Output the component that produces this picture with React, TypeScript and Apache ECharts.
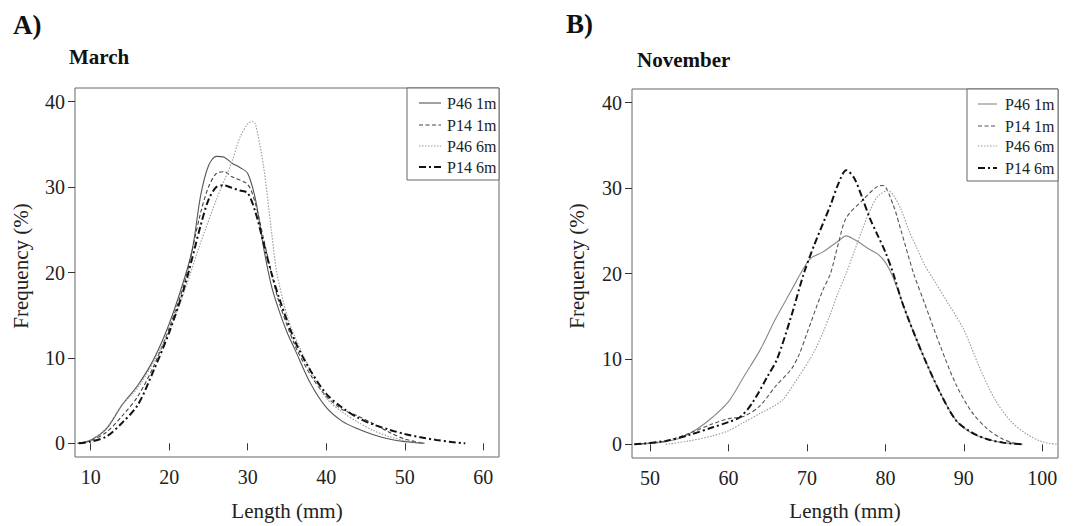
import React, { useEffect, useRef } from "react";
import * as echarts from "echarts";

// ---------- DATA ----------
const seriesNames = ["P46 1m", "P14 1m", "P46 6m", "P14 6m"];

const marchP46_1m = [[8.3,0],[10,0.4],[12,1.7],[14,4.5],[16,6.8],[18,9.8],[20,14],[22,19.5],[23,23],[24,29],[25,32.5],[26,33.6],[27,33.5],[28,32.8],[29,32.3],[30,31.6],[31,28.5],[32,23],[33,18.5],[34,15.5],[35,13],[36,11],[38,7],[40,4.2],[42,2.6],[44,1.7],[46,1.0],[48,0.5],[50,0.2],[52.5,0]];
const marchP14_1m = [[8.5,0],[10,0.3],[12,1.3],[14,3.2],[16,5.5],[18,9],[20,13.5],[22,19],[24,27],[25,30],[26,31.6],[27,31.8],[28,31.2],[30,30.3],[31,28],[32,24],[33,20],[34,16.5],[36,11.5],[38,8],[40,5.5],[42,4],[44,3.2],[46,2.3],[48,1.3],[50,0.5],[52.5,0]];
const marchP46_6m = [[8.5,0],[10,0.4],[12,1.8],[14,4.5],[16,6.5],[18,9.5],[20,13.2],[22,18],[24,23.5],[26,28.5],[28,33],[29,35.8],[30,37.4],[30.6,37.7],[31,37.3],[32,32.5],[33,25],[33.7,20],[35,15],[36,12.5],[38,8.5],[40,5.3],[42,3.7],[44,2.5],[46,1.5],[48,0.8],[50,0.3],[52.5,0]];
const marchP14_6m = [[8.5,0],[10,0.2],[12,0.8],[14,2.4],[16,4.5],[18,8.5],[20,13],[22,18.5],[24,25.5],[25,28.5],[26,30],[27,30.2],[28,29.9],[29,29.6],[30,29.3],[31,27],[32,23.5],[33,20],[34,17],[36,12],[38,8.5],[40,5.8],[42,4.2],[44,3.0],[46,2.2],[48,1.6],[50,1.1],[52,0.7],[54,0.4],[56,0.15],[57.7,0]];

const novP46_1m = [[48,0],[50,0.1],[52,0.3],[54,0.8],[56,1.8],[58,3.2],[60,5],[62,8],[64,11],[66,14.7],[68,18],[69.5,20.5],[70.5,21.8],[72,22.5],[74,23.8],[75,24.4],[76,24],[78,22.8],[79,22.3],[80,21.3],[81,19.5],[83,14.5],[85,10],[87,6],[89,2.8],[91,1.3],[93,0.6],[95,0.2],[97.5,0]];
const novP14_1m = [[48,0],[52,0.4],[55,1.3],[58,2.4],[60,3.0],[62,3.3],[64,4.5],[66,6.8],[68,8.8],[69,10.5],[70,13],[72,18],[73,20],[74,23.5],[75,26.5],[77,28.5],[79,30.2],[79.7,30.3],[81,28],[82,25],[83.6,20],[85,16.5],[87,11.5],[89,7],[91,3.8],[93,1.8],[95,0.6],[97,0]];
const novP46_6m = [[52,0],[55,0.4],[58,1.0],[60,1.6],[62,2.6],[64,3.6],[66,4.6],[67,5.3],[69,8],[70.4,10],[71,11],[72,13],[73,15.3],[74,17.8],[75,20],[76,22.5],[77,25],[78,27.3],[79,29],[80.3,29.7],[81,29.2],[82,27.5],[83,25],[84,23],[85,21],[86,19.5],[88,16.5],[90,13.4],[92,9],[94,5.2],[96,2.7],[98,1.2],[100,0.3],[102,0]];
const novP14_6m = [[48,0],[52,0.4],[55,1.1],[58,2.0],[60,2.6],[61.5,3.2],[63,4.8],[65,8],[66.2,10],[68,15],[69.6,20],[71,23.5],[73,28],[74,30.5],[75,32.1],[76,31.2],[77,29],[78,26.5],[79,24.5],[80,22.5],[81,20],[82,17],[83,14.5],[85,10],[87,6],[89,2.8],[91,1.4],[93,0.6],[95,0.2],[97.5,0]];

const yTicks = [0, 10, 20, 30, 40];
const marchXTicks = [10, 20, 30, 40, 50, 60];
const novXTicks = [50, 60, 70, 80, 90, 100];

// ---------- STYLE ----------
const FONT = "Times New Roman, Liberation Serif, Tinos, DejaVu Serif, serif";
const styles = [
  { color: "#555", width: 1.1, dash: "solid" as any },
  { color: "#444", width: 1.1, dash: [4, 2.5] },
  { color: "#999", width: 1.1, dash: [1.5, 1.5] },
  { color: "#111", width: 2, dash: [7, 3, 2, 3] },
];
const stylesNov = [
  { color: "#888", width: 1.1, dash: "solid" as any },
  { color: "#555", width: 1.1, dash: [4, 2.5] },
  { color: "#999", width: 1.1, dash: [1.5, 1.5] },
  { color: "#111", width: 2, dash: [7, 3, 2, 3] },
];

export default function App() {
  const ref = useRef<HTMLDivElement>(null);
  useEffect(() => {
    if (!ref.current) return;
    const chart = echarts.init(ref.current, null, { renderer: "svg" });

    const grids = [
      { left: 75, top: 88, width: 424, height: 369 },
      { left: 632, top: 89, width: 426, height: 369 },
    ];
    const axisLabelStyle = { fontFamily: FONT, fontSize: 20, color: "#222" };

    const makeX = (gi: number, min: number, max: number, ticks: number[]) => ({
      type: "value",
      gridIndex: gi,
      min,
      max,
      axisLine: { show: false },
      splitLine: { show: false },
      axisTick: { show: true, length: 7, lineStyle: { color: "#333" }, customValues: ticks },
      axisLabel: { ...axisLabelStyle, margin: 10, customValues: ticks },
    });
    const makeY = (gi: number) => ({
      type: "value",
      gridIndex: gi,
      min: -1.6,
      max: 41.6,
      axisLine: { show: false },
      splitLine: { show: false },
      axisTick: { show: true, length: 7, lineStyle: { color: "#333" }, customValues: yTicks },
      axisLabel: { ...axisLabelStyle, margin: 10, customValues: yTicks },
    });

    const marchData = [marchP46_1m, marchP14_1m, marchP46_6m, marchP14_6m];
    const novData = [novP46_1m, novP14_1m, novP46_6m, novP14_6m];

    const mkSeries = (data: number[][], i: number, gi: number, st: any) => ({
      type: "line",
      name: seriesNames[i],
      xAxisIndex: gi,
      yAxisIndex: gi,
      data,
      smooth: 0.3,
      showSymbol: false,
      silent: true,
      lineStyle: { color: st.color, width: st.width, type: st.dash },
      z: i === 3 ? 5 : 3,
    });

    const series = [
      ...marchData.map((d, i) => mkSeries(d, i, 0, styles[i])),
      ...novData.map((d, i) => mkSeries(d, i, 1, stylesNov[i])),
    ];

    const legendGroup = (bx: number, by: number, bw: number, bh: number, lx0: number, lx1: number, tx: number, ys: number[], st: any[]) => {
      const children: any[] = [
        { type: "rect", shape: { x: bx, y: by, width: bw, height: bh }, style: { fill: "#fff", stroke: "#666", lineWidth: 1 }, z: 10 },
      ];
      ys.forEach((y, i) => {
        children.push({
          type: "line",
          shape: { x1: lx0, y1: y, x2: lx1, y2: y },
          style: { stroke: st[i].color, lineWidth: st[i].width, lineDash: Array.isArray(st[i].dash) ? st[i].dash : null },
          z: 11,
        });
        children.push({
          type: "text",
          x: tx,
          y,
          style: { text: seriesNames[i], fontFamily: FONT, fontSize: 16, fill: "#222", verticalAlign: "middle", align: "left" },
          z: 11,
        });
      });
      return children;
    };

    const t = (text: string, x: number, y: number, size: number, bold: boolean, extra: any = {}) => ({
      type: "text",
      x,
      y,
      ...extra,
      style: {
        text,
        fontFamily: FONT,
        fontSize: size,
        fontWeight: bold ? "bold" : "normal",
        fill: bold ? "#111" : "#222",
        verticalAlign: "middle",
        align: extra.align || "left",
      },
    });

    const texts: any[] = [
      t("A)", 13, 25, 27, true),
      t("March", 69, 57, 21, true),
      t("B)", 566, 24, 27, true),
      t("November", 637, 60, 21, true),
      t("Length (mm)", 287, 511, 21, false, { align: "center" }),
      t("Length (mm)", 845, 511, 21, false, { align: "center" }),
      t("Frequency (%)", 21, 266, 21, false, { align: "center", rotation: Math.PI / 2 }),
      t("Frequency (%)", 577, 266, 21, false, { align: "center", rotation: Math.PI / 2 }),
      ...legendGroup(407, 88, 92, 92, 419, 441, 447, [103, 125, 146, 167], styles),
      ...legendGroup(967, 89, 91, 92, 978, 997, 1005, [104, 126, 146, 168], stylesNov),
    ];
    texts.forEach((e) => { if (e.rotation !== undefined) delete e.align; });

    chart.setOption({
      animation: false,
      backgroundColor: "#fff",
      grid: grids.map((g) => ({ ...g, show: true, borderColor: "#666", borderWidth: 1, backgroundColor: "transparent" })),
      xAxis: [makeX(0, 8, 62, marchXTicks), makeX(1, 47.7, 102, novXTicks)],
      yAxis: [makeY(0), makeY(1)],
      series,
      graphic: texts,
    });
    return () => chart.dispose();
  }, []);
  return (
    <div
      ref={ref}
      style={{ position: "fixed", left: 0, top: 0, width: 1080, height: 526, background: "#fff" }}
    />
  );
}
